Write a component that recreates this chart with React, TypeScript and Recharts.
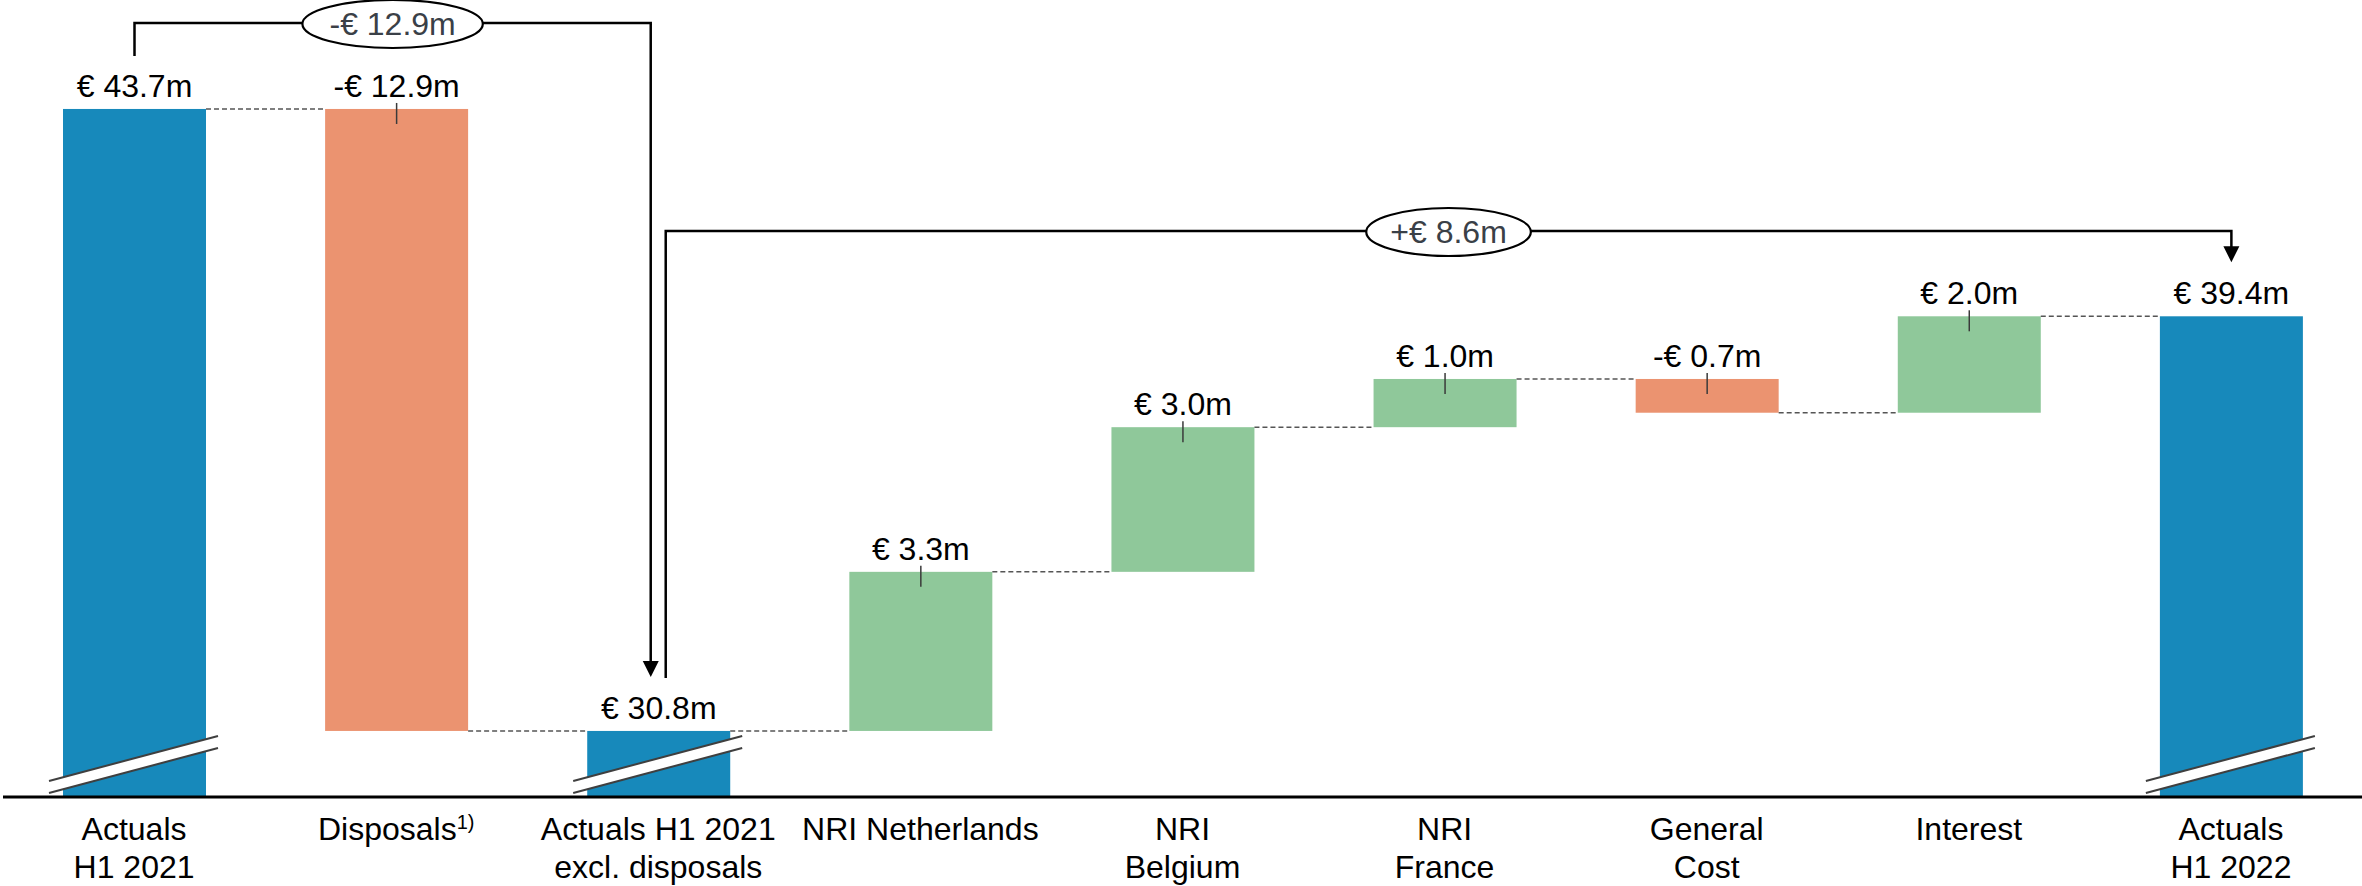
import React from "react";
import { BarChart, Bar, XAxis, YAxis } from "recharts";

// waterfall steps
const categories = [
  "Actuals H1 2021",
  "Disposals",
  "Actuals H1 2021 excl. disposals",
  "NRI Netherlands",
  "NRI Belgium",
  "NRI France",
  "General Cost",
  "Interest",
  "Actuals H1 2022",
];
const categoryLines = [
  ["Actuals", "H1 2021"],
  ["Disposals"],
  ["Actuals H1 2021", "excl. disposals"],
  ["NRI Netherlands"],
  ["NRI", "Belgium"],
  ["NRI", "France"],
  ["General", "Cost"],
  ["Interest"],
  ["Actuals", "H1 2022"],
];
const footnotes = ["", "1)", "", "", "", "", "", "", ""];
const values = [43.7, -12.9, 30.8, 3.3, 3.0, 1.0, -0.7, 2.0, 39.4];
const kinds = ["total", "delta", "total", "delta", "delta", "delta", "delta", "delta", "total"];

// bridge brackets drawn above the bars
const bracketFrom = [0, 2];
const bracketTo = [2, 8];
const bracketLabels = ["-€ 12.9m", "+€ 8.6m"];

// y axis is broken, so it starts well above zero
const AXIS_MIN = 29.43;
const AXIS_MAX = 45.96;

const CHART_W = 2362;
const CHART_H = 886;
const MARGIN = { top: 0, right: 0, left: 3, bottom: 0 };
const STEP = (CHART_W - MARGIN.left - MARGIN.right) / categories.length;
const BRACKET_Y = [23, 231];

const FONT = "'Liberation Sans', Arial, sans-serif";
const FONT_SIZE = 32;
const BLUE = "#1789bb";
const GREEN = "#8fc89a";
const ORANGE = "#eb9370";

const formatValue = (v: number, kind: string) => {
  const abs = Math.abs(v).toFixed(1);
  if (kind === "delta" && v < 0) return `-€ ${abs}m`;
  return `€ ${abs}m`;
};

// build floating ranges for the waterfall
let running = 0;
const rows = categories.map((name, i) => {
  const v = values[i];
  let low: number;
  let high: number;
  if (kinds[i] === "total") {
    low = AXIS_MIN;
    high = v;
    running = v;
  } else {
    low = Math.min(running, running + v);
    high = Math.max(running, running + v);
    running = running + v;
  }
  return { name, idx: i, range: [low, high], low, high, end: running, value: v, kind: kinds[i] };
});

const barColor = (row: any) => {
  if (row.kind === "total") return BLUE;
  return row.value < 0 ? ORANGE : GREEN;
};

const renderBar = (props: any) => {
  const { x, y, width, height } = props;
  const i = props.payload?.idx ?? props.index;
  const row = rows[i];
  const cx = x + width / 2;
  const bottom = y + height;
  const ppu = height / (row.high - row.low);
  const topOf = (j: number) => y - (rows[j].high - row.high) * ppu;

  const parts: React.ReactNode[] = [];
  parts.push(<rect key="r" x={x} y={y} width={width} height={height} fill={barColor(row)} />);

  // axis break marks on total bars
  if (row.kind === "total") {
    const x0 = x - 14;
    const x1 = x + width + 12;
    parts.push(
      <g key="brk">
        <polygon
          points={`${x0},${bottom - 16} ${x1},${bottom - 61} ${x1},${bottom - 49} ${x0},${bottom - 4}`}
          fill="#fff"
        />
        <line x1={x0} y1={bottom - 16} x2={x1} y2={bottom - 61} stroke="#3f3f3f" strokeWidth={2} />
        <line x1={x0} y1={bottom - 4} x2={x1} y2={bottom - 49} stroke="#3f3f3f" strokeWidth={2} />
      </g>
    );
  } else {
    parts.push(
      <line key="tk" x1={cx} y1={y - 6} x2={cx} y2={y + 15} stroke="#3a3a3a" strokeWidth={1.5} />
    );
  }

  // dashed connector to the next bar
  if (i < rows.length - 1) {
    const ly = y + (row.high - row.end) * ppu;
    parts.push(
      <line
        key="cn"
        x1={x + width}
        y1={ly}
        x2={x + STEP}
        y2={ly}
        stroke="#555"
        strokeWidth={1.5}
        strokeDasharray="5 3"
      />
    );
  }

  // value label
  parts.push(
    <text
      key="lb"
      x={cx}
      y={y - 12}
      textAnchor="middle"
      fontSize={FONT_SIZE}
      fontFamily={FONT}
      fill="#000"
    >
      {formatValue(row.value, row.kind)}
    </text>
  );

  // bracket starting at this bar
  const b = bracketFrom.indexOf(i);
  if (b >= 0) {
    const t = bracketTo[b];
    const sx = cx + (bracketTo.includes(i) ? 7 : 0);
    const tx = cx + (t - i) * STEP - (bracketFrom.includes(t) ? 8 : 0);
    const hy = BRACKET_Y[b];
    const sy = y - 53;
    const tip = topOf(t) - 54;
    const mx = (sx + tx) / 2;
    const label = bracketLabels[b];
    const rx = 27 + label.length * 7.9;
    parts.push(
      <g key="bk">
        <polyline
          points={`${sx},${sy} ${sx},${hy} ${tx},${hy} ${tx},${tip - 15}`}
          fill="none"
          stroke="#000"
          strokeWidth={2.5}
        />
        <polygon points={`${tx - 8},${tip - 16} ${tx + 8},${tip - 16} ${tx},${tip}`} fill="#000" />
        <ellipse cx={mx} cy={hy + 1} rx={rx} ry={24} fill="#fff" stroke="#000" strokeWidth={2.2} />
        <text
          x={mx}
          y={hy + 12}
          textAnchor="middle"
          fontSize={FONT_SIZE}
          fontFamily={FONT}
          fill="#3a4047"
        >
          {label}
        </text>
      </g>
    );
  }

  return <g>{parts}</g>;
};

const CategoryTick = (props: any) => {
  const { x, y, payload } = props;
  const i = categories.indexOf(payload.value);
  const lines = categoryLines[i] ?? [payload.value];
  return (
    <text x={x} y={y} textAnchor="middle" fontSize={FONT_SIZE} fontFamily={FONT} fill="#000">
      {lines.map((line, k) => (
        <tspan key={k} x={x} dy={k === 0 ? 35 : 38}>
          {line}
          {k === 0 && footnotes[i] ? (
            <tspan fontSize={20} dy={-11}>
              {footnotes[i]}
            </tspan>
          ) : null}
        </tspan>
      ))}
    </text>
  );
};

export default function App() {
  return (
    <div style={{ width: CHART_W, height: CHART_H, background: "#fff" }}>
      <style>{"body{margin:0;background:#fff}"}</style>
      <BarChart width={CHART_W} height={CHART_H} data={rows} margin={MARGIN} barSize={143}>
        <XAxis
          dataKey="name"
          height={89}
          interval={0}
          tickLine={false}
          axisLine={{ stroke: "#000", strokeWidth: 3 }}
          tick={<CategoryTick />}
        />
        <YAxis hide domain={[AXIS_MIN, AXIS_MAX]} allowDataOverflow />
        <Bar dataKey="range" shape={renderBar} isAnimationActive={false} />
      </BarChart>
    </div>
  );
}
